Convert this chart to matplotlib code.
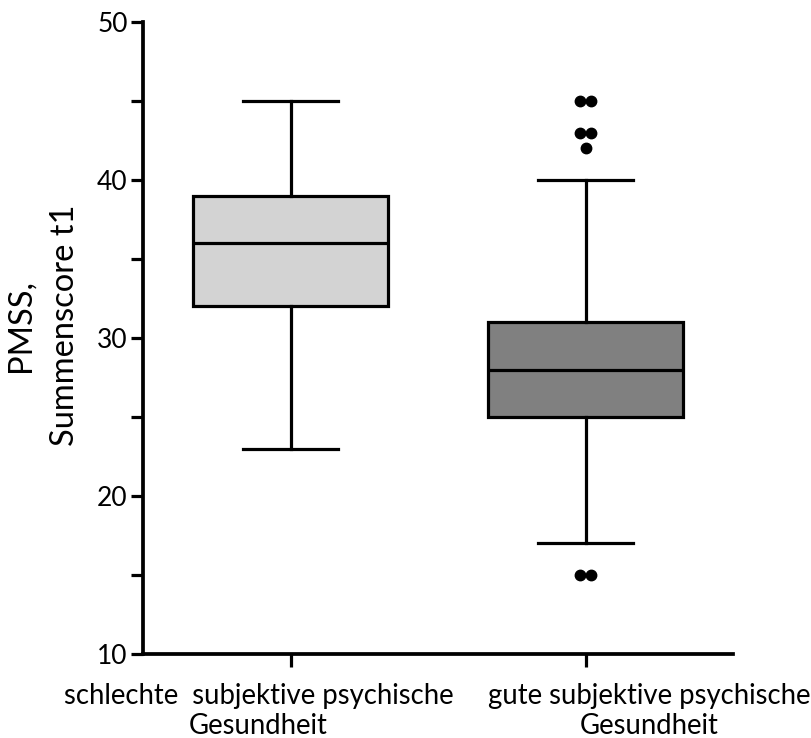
import matplotlib
matplotlib.use('Agg')
import matplotlib.pyplot as plt
import matplotlib.transforms as mtransforms
from matplotlib.ticker import MultipleLocator

# ── Data ──────────────────────────────────────────────────
GROUPS    = ['schlechte  subjektive psychische\nGesundheit',
             'gute subjektive psychische\nGesundheit']
WHIS_LO   = [23, 17]
Q1        = [32, 25]
MEDIAN    = [36, 28]
Q3        = [39, 31]
WHIS_HI   = [45, 40]
OUTLIERS  = [[], [45, 45, 43, 43, 42, 15, 15]]
FILLS     = ['#d3d3d3', '#808080']

YLABEL    = 'PMSS,\nSummenscore t1'

plt.rcParams['font.family'] = ['Lato', 'DejaVu Sans']

fig = plt.figure(figsize=(8.11, 7.38), dpi=100)
ax  = fig.add_axes([143/811, 84/738, 590/811, 632/738])

stats = []
for i, name in enumerate(GROUPS):
    stats.append(dict(label=name, whislo=WHIS_LO[i], q1=Q1[i],
                      med=MEDIAN[i], q3=Q3[i], whishi=WHIS_HI[i],
                      fliers=[]))

LW = 2.3
bp = ax.bxp(stats, positions=[1, 2], widths=0.66, capwidths=0.32,
            patch_artist=True, showfliers=False,
            boxprops=dict(linewidth=LW, edgecolor='black'),
            medianprops=dict(linewidth=LW, color='black'),
            whiskerprops=dict(linewidth=LW, color='black'),
            capprops=dict(linewidth=LW, color='black'))
for patch, c in zip(bp['boxes'], FILLS):
    patch.set_facecolor(c)

# outliers: tied values sit side by side
for i, vals in enumerate(OUTLIERS):
    for v in set(vals):
        n = vals.count(v)
        for k in range(n):
            dx = (k - (n - 1) / 2) * 0.036
            ax.plot(i + 1 + dx, v, 'o', color='black', markersize=7.5,
                    zorder=5)

ax.set_xlim(0.5, 2.5)
ax.set_ylim(10, 50)
ax.yaxis.set_major_locator(MultipleLocator(10))
ax.yaxis.set_minor_locator(MultipleLocator(5))
ax.set_xticks([1, 2])
ax.set_xticklabels(GROUPS, fontsize=19.8, linespacing=1.2)
ax.tick_params(axis='y', which='both', length=9, width=2.3,
               labelsize=19, pad=2)
ax.tick_params(axis='x', length=9, width=2.3, pad=12)

for side in ['top', 'right']:
    ax.spines[side].set_visible(False)
for side in ['left', 'bottom']:
    ax.spines[side].set_linewidth(2.7)

# shift category labels like in the reference
for lbl, dx in zip(ax.get_xticklabels(), [-32, 64]):
    off = mtransforms.ScaledTranslation(dx / 100, 0, fig.dpi_scale_trans)
    lbl.set_transform(lbl.get_transform() + off)

ax.set_ylabel(YLABEL, fontsize=23.5, linespacing=1.6)
ax.yaxis.set_label_coords(-0.107, 0.52)

fig.savefig('out.png', dpi=100)
